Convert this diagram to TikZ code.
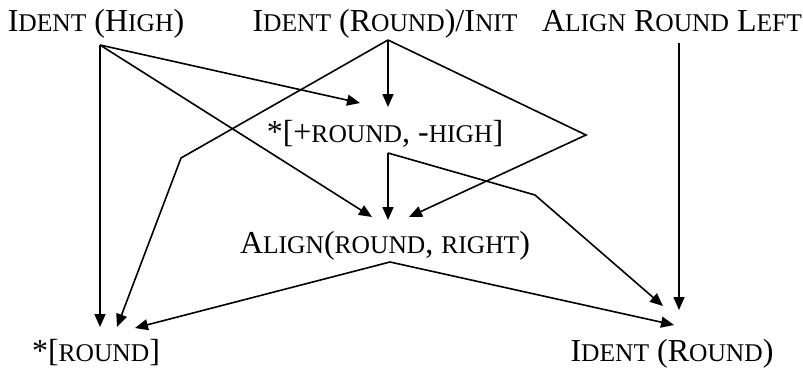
\documentclass[tikz,border=0pt]{standalone}
\usepackage{fontspec}
\setmainfont{Liberation Serif}
\usetikzlibrary{arrows.meta}
% faked small capitals: capitals set at a smaller size
\newcommand\capsmall[1]{{\fontsize{25.5}{30}\selectfont #1}}
\begin{document}
\begin{tikzpicture}[x=1pt,y=-1pt,
  lbl/.style={inner sep=0pt,anchor=base,font=\fontsize{32}{38}\selectfont},
  edge/.style={line width=1.6pt,-{Triangle[length=13pt,width=11pt]}}]
\useasboundingbox (0,0) rectangle (803,369);

% labels
\node[lbl] (ih)  at (96,32)  {I\capsmall{DENT} (H\capsmall{IGH})};
\node[lbl] (iri) at (385,32) {I\capsmall{DENT} (R\capsmall{OUND})/I\capsmall{NIT}};
\node[lbl] (arl) at (672,32) {A\capsmall{LIGN} R\capsmall{OUND} L\capsmall{EFT}};
\node[lbl] (pr)  at (385,142) {*[+\capsmall{ROUND}, -\capsmall{HIGH}]};
\node[lbl] (al)  at (385,253) {A\capsmall{LIGN}(\capsmall{ROUND}, \capsmall{RIGHT})};
\node[lbl] (sr)  at (96,361) {*[\capsmall{ROUND}]};
\node[lbl] (ir)  at (672,361) {I\capsmall{DENT} (R\capsmall{OUND})};

% ports
\coordinate (ih-o)  at (100,45);
\coordinate (iri-o) at (388,40);
\coordinate (arl-o) at (679,43);
\coordinate (pr-w)  at (360,103);
\coordinate (pr-n)  at (388,107);
\coordinate (pr-o)  at (388,153);
\coordinate (al-w)  at (372,217);
\coordinate (al-n)  at (388,220);
\coordinate (al-e)  at (409,217);
\coordinate (al-o)  at (390,262);
\coordinate (sr-a)  at (100,327);
\coordinate (sr-b)  at (117,327);
\coordinate (sr-c)  at (135,328);
\coordinate (ir-a)  at (663,306);
\coordinate (ir-b)  at (674,325);
\coordinate (ir-c)  at (679,310);
% bends
\coordinate (bend-l) at (181,158);
\coordinate (bend-r) at (586,135);
\coordinate (bend-m) at (535,195);

% connectors
\draw[edge] (ih-o) -- (sr-a);
\draw[edge] (ih-o) -- (pr-w);
\draw[edge] (ih-o) -- (al-w);
\draw[edge] (iri-o) -- (pr-n);
\draw[edge] (iri-o) -- (bend-l) -- (sr-b);
\draw[edge] (iri-o) -- (bend-r) -- (al-e);
\draw[edge] (pr-o) -- (al-n);
\draw[edge] (pr-o) -- (bend-m) -- (ir-a);
\draw[edge] (al-o) -- (sr-c);
\draw[edge] (al-o) -- (ir-b);
\draw[edge] (arl-o) -- (ir-c);
\end{tikzpicture}
\end{document}
